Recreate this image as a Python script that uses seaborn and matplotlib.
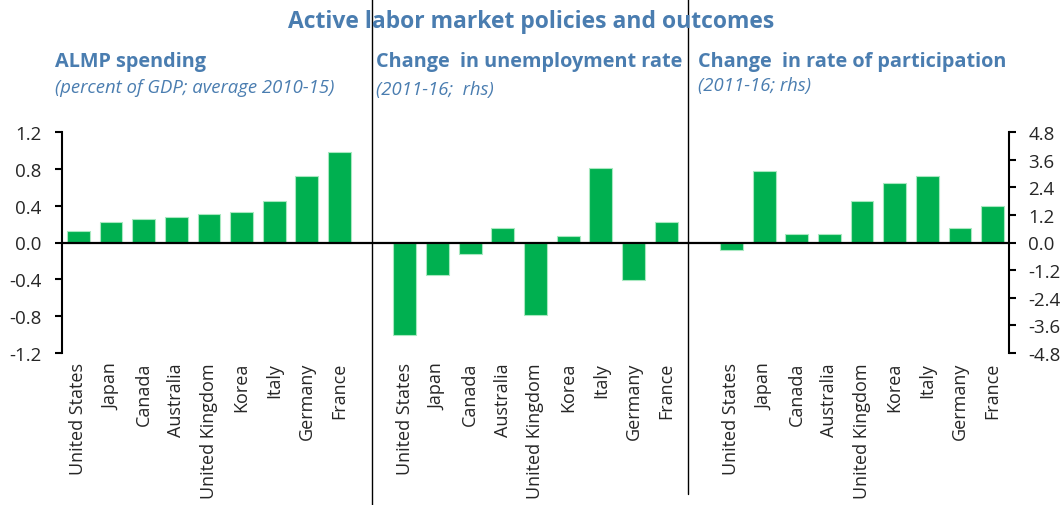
import pandas as pd
import matplotlib.pyplot as plt
import seaborn as sns

# =====================================
# Data
# =====================================

countries = ["United States", "Japan", "Canada", "Australia", "United Kingdom",
             "Korea", "Italy", "Germany", "France"]

almp_spending = [0.12, 0.22, 0.26, 0.28, 0.31, 0.33, 0.45, 0.72, 0.98]
unemp_change = [-4.0, -1.4, -0.5, 0.65, -3.15, 0.27, 3.25, -1.62, 0.9]
particip_change = [-0.33, 3.1, 0.35, 0.35, 1.8, 2.57, 2.88, 0.65, 1.6]

lhs_ticks = [-1.2, -0.8, -0.4, 0.0, 0.4, 0.8, 1.2]
rhs_ticks = [-4.8, -3.6, -2.4, -1.2, 0.0, 1.2, 2.4, 3.6, 4.8]

# slots: 9 bars, blank, 9 bars, blank, 9 bars
slot_labels = countries + [""] + countries + [""] + countries
slots = [f"s{i}" for i in range(len(slot_labels))]

lhs_df = pd.DataFrame({"slot": slots[0:9], "value": almp_spending})
rhs_df = pd.DataFrame({"slot": slots[10:19] + slots[20:29],
                       "value": unemp_change + particip_change})

# =====================================
# Style
# =====================================

sns.set_style("white")
plt.rcParams["font.family"] = ["Open Sans", "DejaVu Sans"]

blue = "#4A7DB0"
green = "#00B050"

fig = plt.figure(figsize=(10.63, 5.06), dpi=100)
ax = fig.add_axes([62 / 1063, 1 - 354 / 506, 947 / 1063, 221 / 506])
ax2 = ax.twinx()

sns.barplot(data=lhs_df, x="slot", y="value", order=slots, color=green,
            width=0.7, edgecolor="#a8e8c0", linewidth=0.8, saturation=1, ax=ax)
sns.barplot(data=rhs_df, x="slot", y="value", order=slots, color=green,
            width=0.7, edgecolor="#a8e8c0", linewidth=0.8, saturation=1, ax=ax2)

ax.set_xlim(-0.5, len(slots) - 0.5)
ax.set_ylim(-1.2, 1.2)
ax2.set_ylim(-4.8, 4.8)
ax.set_yticks(lhs_ticks)
ax.set_yticklabels([f"{t:.1f}" for t in lhs_ticks], fontsize=13.5)
ax2.set_yticks(rhs_ticks)
ax2.set_yticklabels([f"{t:.1f}" for t in rhs_ticks], fontsize=13.5)
ax.set_xticks(range(len(slots)))
ax.set_xticklabels(slot_labels, rotation=90, fontsize=13)
ax.set_xlabel("")
ax.set_ylabel("")
ax2.set_xlabel("")
ax2.set_ylabel("")

for a in (ax, ax2):
    for s in ["top", "bottom"]:
        a.spines[s].set_visible(False)
ax.spines["right"].set_visible(False)
ax2.spines["left"].set_visible(False)
ax.spines["left"].set_linewidth(1.5)
ax2.spines["right"].set_linewidth(1.5)
ax.spines["left"].set_color("black")
ax2.spines["right"].set_color("black")
ax.tick_params(axis="y", left=True, length=5, width=1.5, color="black", pad=10)
ax2.tick_params(axis="y", right=True, length=5, width=1.5, color="black", pad=9)
ax.tick_params(axis="x", bottom=False, pad=3)
ax2.axhline(0, color="black", linewidth=1.6, zorder=5)

# panel separators
trans = ax.get_xaxis_transform()
ax.plot([9.0, 9.0], [1.72, -0.69], color="black", linewidth=1, transform=trans, clip_on=False)
ax.plot([18.66, 18.66], [1.79, -0.64], color="black", linewidth=1, transform=trans, clip_on=False)

# =====================================
# Titles
# =====================================

fig.text(0.5, 1 - 22 / 506, "Active labor market policies and outcomes", ha="center", va="center",
         fontsize=16.5, fontweight="bold", color=blue)

fig.text(55 / 1063, 1 - 62 / 506, "ALMP spending", fontsize=14.3, fontweight="bold", color=blue, va="center")
fig.text(55 / 1063, 1 - 88 / 506, "(percent of GDP; average 2010-15)", fontsize=13.3, style="italic",
         color=blue, va="center")
fig.text(376 / 1063, 1 - 62 / 506, "Change  in unemployment rate", fontsize=14.3, fontweight="bold",
         color=blue, va="center")
fig.text(376 / 1063, 1 - 90 / 506, "(2011-16;  rhs)", fontsize=13.3, style="italic", color=blue, va="center")
fig.text(698 / 1063, 1 - 62 / 506, "Change  in rate of participation", fontsize=14.3, fontweight="bold",
         color=blue, va="center")
fig.text(698 / 1063, 1 - 86 / 506, "(2011-16; rhs)", fontsize=13.3, style="italic", color=blue, va="center")

plt.savefig("out.png", dpi=100)
plt.close()
